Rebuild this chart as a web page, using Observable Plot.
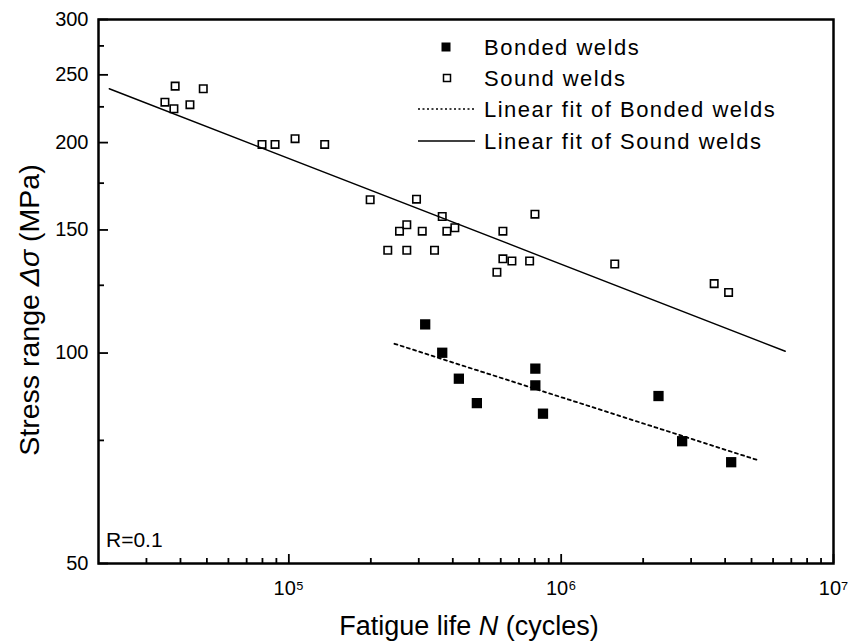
<!DOCTYPE html>
<html><head><meta charset="utf-8">
<script src="https://cdn.jsdelivr.net/npm/d3@7"></script>
<script src="https://cdn.jsdelivr.net/npm/@observablehq/plot@0.6"></script>
<style>
body{margin:0;background:#fff}
#chart svg{display:block}
</style>
</head><body><div id="chart"></div>
<script>
// ---- data ----
const bondedN = [316700, 365800, 421000, 490200, 803700, 803700, 857500, 2277000, 2781000, 4210000];
const bondedS = [109.9, 100.1, 91.9, 84.8, 95.0, 89.9, 81.9, 86.8, 74.8, 69.8];

const soundN = [35070, 38240, 37840, 43330, 48500, 79700, 88990, 105400, 135400,
  198900, 294300, 365800, 271100, 254900, 308900, 380400, 407000, 611000, 801100,
  230800, 271100, 342700, 611000, 659300, 765900, 580800, 1573000, 3646000, 4119000];
const soundS = [228.5, 240.9, 223.6, 226.6, 238.8, 198.8, 198.8, 202.6, 198.8,
  165.7, 166.0, 156.8, 152.6, 149.4, 149.4, 149.4, 151.1, 149.4, 158.0,
  140.3, 140.3, 140.3, 136.4, 135.4, 135.4, 130.5, 134.1, 125.7, 122.1];

const fitBondedN = [244300, 5320000];
const fitBondedS = [103.1, 70.2];
const fitSoundN = [21900, 6650000];
const fitSoundS = [238.8, 100.6];

const yTicks = [50, 100, 150, 200, 250, 300];
const yMinor = [75, 125, 175, 225, 275];
const xTicks = [1e5, 1e6, 1e7];
const xMinor = [3e4, 4e4, 5e4, 6e4, 7e4, 8e4, 9e4,
  2e5, 3e5, 4e5, 5e5, 6e5, 7e5, 8e5, 9e5,
  2e6, 3e6, 4e6, 5e6, 6e6, 7e6, 8e6, 9e6];

const legendLabels = ["Bonded welds", "Sound welds", "Linear fit of Bonded welds", "Linear fit of Sound welds"];
const annotation = "R=0.1";

// ---- layout ----
const W = 848, H = 644, mL = 98, mR = 15, mT = 19, mB = 81;
const pw = W - mL - mR, ph = H - mT - mB;
const FONT = "'Liberation Sans', Arial, Helvetica, sans-serif";

const bonded = bondedN.map((n, i) => ({n, s: bondedS[i]}));
const sound = soundN.map((n, i) => ({n, s: soundS[i]}));
const fitB = fitBondedN.map((n, i) => ({n, s: fitBondedS[i]}));
const fitS = fitSoundN.map((n, i) => ({n, s: fitSoundS[i]}));

const supDigits = {"0":"⁰","1":"¹","2":"²","3":"³","4":"⁴","5":"⁵","6":"⁶","7":"⁷","8":"⁸","9":"⁹"};
const expFmt = d => "10" + String(Math.round(Math.log10(d))).split("").map(c => supDigits[c]).join("");

const plot = Plot.plot({
  width: W, height: H,
  marginLeft: mL, marginRight: mR, marginTop: mT, marginBottom: mB,
  style: {fontFamily: FONT, background: "#fff", color: "#000"},
  x: {type: "log", domain: [2e4, 1e7]},
  y: {type: "log", domain: [50, 300]},
  marks: [
    Plot.axisY({ticks: yTicks, tickSize: 0, tickPadding: 10, fontSize: 20, tickFormat: d => String(d), label: null}),
    Plot.axisX({ticks: xTicks, tickSize: 0, tickPadding: 17, fontSize: 20, tickFormat: expFmt, label: null}),
    Plot.tickY(yTicks, {y: d => d, insetRight: pw - 10, strokeWidth: 1.8, stroke: "#000"}),
    Plot.tickY(yMinor, {y: d => d, insetRight: pw - 6, strokeWidth: 1.8, stroke: "#000"}),
    Plot.tickX(xTicks, {x: d => d, insetTop: ph - 9, strokeWidth: 1.8, stroke: "#000"}),
    Plot.tickX(xMinor, {x: d => d, insetTop: ph - 5, strokeWidth: 1.8, stroke: "#000"}),
    Plot.line(fitS, {x: "n", y: "s", stroke: "#000", strokeWidth: 1.4}),
    Plot.line(fitB, {x: "n", y: "s", stroke: "#000", strokeWidth: 1.8, strokeDasharray: "3,3.5"}),
    Plot.dot(sound, {x: "n", y: "s", symbol: "square", r: 4.2, stroke: "#000", strokeWidth: 1.6, fill: "none"}),
    Plot.dot(bonded, {x: "n", y: "s", symbol: "square", r: 5.8, fill: "#000", stroke: "none"}),
    Plot.frame({stroke: "#000", strokeWidth: 2.5})
  ]
});

const svg = d3.select(plot);

// y-axis title
const yt = svg.append("text")
  .attr("transform", `translate(39,310) rotate(-90)`)
  .attr("text-anchor", "middle")
  .attr("font-size", 28.5).attr("font-family", FONT).attr("fill", "#000");
yt.append("tspan").text("Stress range ");
yt.append("tspan").attr("font-style", "italic").text("Δσ");
yt.append("tspan").text(" (MPa)");

// x-axis title
const xt = svg.append("text")
  .attr("x", 469).attr("y", 635)
  .attr("text-anchor", "middle")
  .attr("font-size", 27).attr("font-family", FONT).attr("fill", "#000");
xt.append("tspan").text("Fatigue life ");
xt.append("tspan").attr("font-style", "italic").text("N");
xt.append("tspan").text(" (cycles)");

// annotation
svg.append("text").attr("x", 106).attr("y", 547).attr("text-anchor", "start")
  .attr("font-size", 21).attr("font-family", FONT).attr("fill", "#000").text(annotation);

// legend
const lg = svg.append("g").attr("font-family", FONT).attr("font-size", 22).attr("letter-spacing", 1.5)
  .attr("fill", "#000").attr("text-anchor", "start");
const rows = [47, 78, 109, 141];
lg.append("rect").attr("x", 441.5).attr("y", rows[0] - 4.5).attr("width", 9).attr("height", 9).attr("fill", "#000");
lg.append("rect").attr("x", 443.5).attr("y", rows[1] - 3.5).attr("width", 7).attr("height", 7).attr("fill", "none").attr("stroke", "#000").attr("stroke-width", 1.5);
lg.append("line").attr("x1", 418).attr("x2", 475).attr("y1", rows[2]).attr("y2", rows[2]).attr("stroke", "#000").attr("stroke-width", 1.3).attr("stroke-dasharray", "2,2.5");
lg.append("line").attr("x1", 418).attr("x2", 475).attr("y1", rows[3]).attr("y2", rows[3]).attr("stroke", "#000").attr("stroke-width", 1.5);
legendLabels.forEach((t, i) => {
  lg.append("text").attr("x", 484).attr("y", rows[i]).attr("dy", "0.36em").attr("text-anchor", "start").text(t);
});

document.getElementById("chart").appendChild(plot);
</script>
</body></html>
